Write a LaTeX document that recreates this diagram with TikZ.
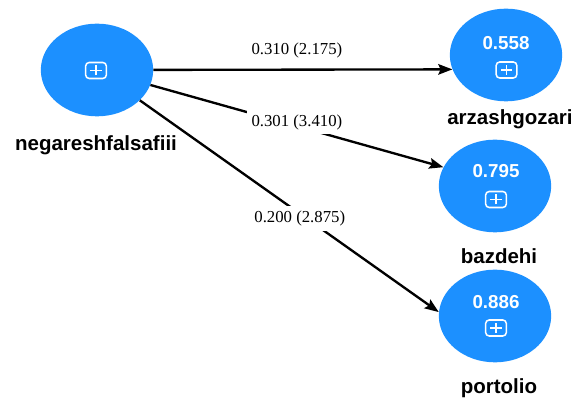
\documentclass[tikz,border=0pt]{standalone}
\usepackage{fontspec}
\setmainfont{Liberation Serif}
\setsansfont{Liberation Sans}
\usetikzlibrary{shapes.geometric,arrows.meta}
\definecolor{lvblue}{RGB}{28,144,255}
\tikzset{
latent/.style={ellipse, fill=lvblue, minimum width=3.37cm, minimum height=2.78cm, inner sep=0pt},
plusicon/.style={rectangle, draw=white, line width=1.3pt, rounded corners=3pt, minimum width=0.62cm, minimum height=0.48cm, inner sep=0pt,
  path picture={\draw[white, line width=1.3pt] ([xshift=-0.17cm]path picture bounding box.center) -- ([xshift=0.17cm]path picture bounding box.center);
    \draw[white, line width=1.3pt] ([yshift=-0.15cm]path picture bounding box.center) -- ([yshift=0.15cm]path picture bounding box.center);}},
rsquare/.style={anchor=base, text=white, inner sep=0pt, font=\sffamily\bfseries\fontsize{16}{19}\selectfont},
lvname/.style={anchor=base, inner sep=0pt, font=\sffamily\bfseries\fontsize{17.5}{20}\selectfont},
pathcoef/.style={fill=white, inner sep=4pt, font=\fontsize{14.3}{16}\selectfont},
link/.style={draw=black, line width=2pt, -{Stealth[length=12pt, width=9pt, inset=2pt]}}
}
\begin{document}
\begin{tikzpicture}[x=0.03cm, y=-0.03cm]
\useasboundingbox (0,0) rectangle (576,401);
\node[latent] (negareshfalsafiii) at (97,70) {};
\node[plusicon] (negareshfalsafiiiIcon) at (96,70.5) {};
\node[lvname] (negareshfalsafiiiName) at (96,150.7) {negareshfalsafiii};
\node[latent] (arzashgozari) at (506,55) {};
\node[rsquare] (arzashgozariR2) at (506,49.3) {0.558};
\node[plusicon] (arzashgozariIcon) at (506.5,70) {};
\node[lvname] (arzashgozariName) at (510,125) {arzashgozari};
\node[latent] (bazdehi) at (495,186) {};
\node[rsquare] (bazdehiR2) at (496,177.3) {0.795};
\node[plusicon] (bazdehiIcon) at (496,199.5) {};
\node[lvname] (bazdehiName) at (499,263.3) {bazdehi};
\node[latent] (portolio) at (495,316) {};
\node[rsquare] (portolioR2) at (496,308.3) {0.886};
\node[plusicon] (portolioIcon) at (496,328) {};
\node[lvname] (portolioName) at (499,393.3) {portolio};
\draw[link] (negareshfalsafiii) -- node[pathcoef, pos=0.48, above=5pt] (coefA) {0.310 (2.175)} (arzashgozari.195);
\draw[link] (negareshfalsafiii) -- node[pathcoef, pos=0.5, yshift=3.5pt] (coefB) {0.301 (3.410)} (bazdehi.160);
\draw[link] (negareshfalsafiii) -- node[pathcoef, pos=0.535, yshift=-4pt] (coefC) {0.200 (2.875)} (portolio.176);
\end{tikzpicture}
\end{document}
